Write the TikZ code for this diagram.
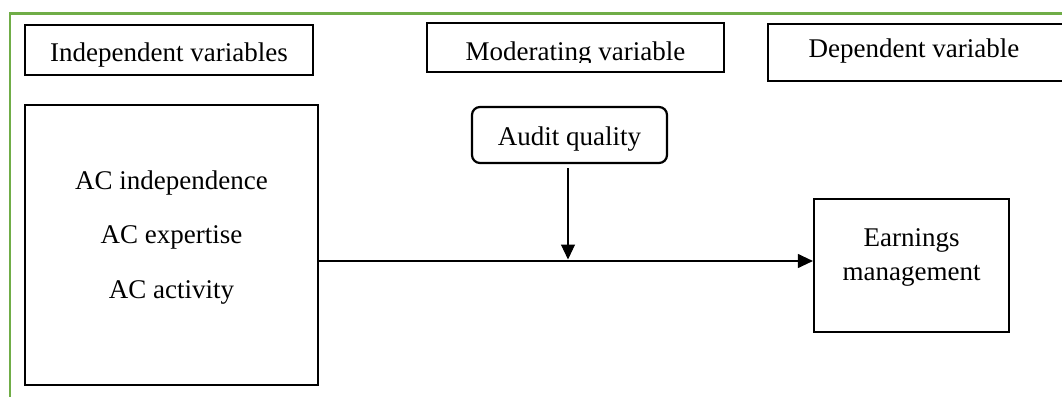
\documentclass[tikz,border=0pt]{standalone}
\usepackage{fontspec}
\setmainfont{Liberation Serif}
\usetikzlibrary{arrows.meta}
\definecolor{framegreen}{RGB}{112,173,71}
\begin{document}
\begin{tikzpicture}[x=1pt,y=-1pt,
  frame/.style={draw=black, line width=2.2pt, inner sep=0pt, rectangle},
  lbl/.style={font=\fontsize{27}{32}\selectfont, inner sep=0pt, anchor=base},
  conn/.style={line width=1.1pt, -{Triangle[length=15pt,width=14pt]}}]
\clip (0,0) rectangle (1062,396);
\fill[white] (0,0) rectangle (1062,396);
% green frame
\draw[framegreen, line width=2.4pt] (10,400) -- (10,13.5) -- (1070,13.5);
% header boxes
\node[frame, minimum width=288pt, minimum height=50pt] (indh) at (169,50) {};
\node[lbl] (indhtxt) at (169,61) {Independent variables};
\node[frame, minimum width=297pt, minimum height=49pt] (modh) at (575.5,47.5) {};
\begin{scope}
\clip (430,26) rectangle (721,62.5);
\node[lbl] (modhtxt) at (575.5,60) {Moderating variable};
\end{scope}
\node[frame, minimum width=310pt, minimum height=57pt] (deph) at (923,52.5) {};
\node[lbl] (dephtxt) at (914,58) {Dependent variable};
% independent variables box
\node[frame, minimum width=293pt, minimum height=280pt] (indep) at (171.5,245) {};
\node[lbl] (ac1) at (171.5,189) {AC independence};
\node[lbl] (ac2) at (171.5,243.5) {AC expertise};
\node[lbl] (ac3) at (171.5,298) {AC activity};
% moderator
\node[frame, rounded corners=8pt, minimum width=195pt, minimum height=56pt] (audit) at (569.5,135) {};
\node[lbl] (audittxt) at (569.5,145) {Audit quality};
% dependent
\node[frame, minimum width=195pt, minimum height=133pt] (earn) at (911.5,265.5) {};
\node[lbl] (em1) at (911.5,246) {Earnings};
\node[lbl] (em2) at (911.5,280) {management};
% connectors
\coordinate (join) at (568,261);
\draw[conn] (indep.east |- join) -- (earn.west |- join);
\draw[conn] ([yshift=-4pt]audit.south -| join) -- ([yshift=1.5pt]join);
\end{tikzpicture}
\end{document}
